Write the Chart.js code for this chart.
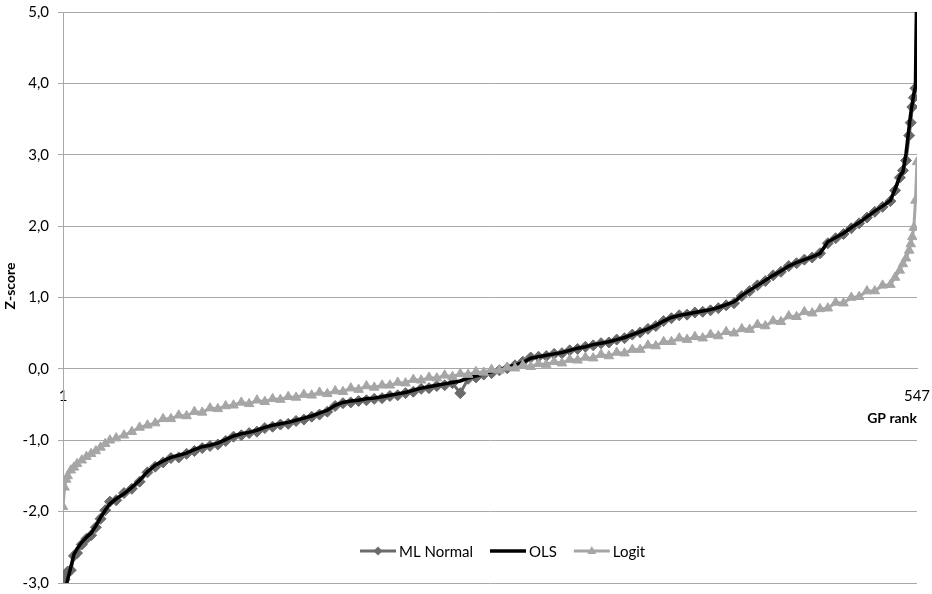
<!DOCTYPE html>
<html><head><meta charset="utf-8">
<script src="https://cdn.jsdelivr.net/npm/chart.js@4/dist/chart.umd.min.js"></script>
<style>html,body{margin:0;padding:0;background:#fff;}#wrap{width:932px;height:594px;}</style>
</head><body><div id="wrap"><canvas id="c" width="932" height="594"></canvas></div>
<script>
// GP rank positions of the sampled points
const ranks = [1,2,3,4,6,8,10,13,16,19,22,25,28,31,35,40,45,50,55,
60,65,70,75,80,85,90,95,100,105,
110,115,120,125,130,135,140,145,150,155,
160,165,170,175,180,185,190,195,200,205,
210,215,220,225,230,235,240,245,250,255,
260,265,270,275,280,285,290,295,300,305,
310,315,320,325,330,335,340,345,350,355,
360,365,370,375,380,385,390,395,400,405,
410,415,420,425,430,435,440,445,450,455,
460,465,470,475,480,485,490,495,500,505,
510,515,520,525,530,
533,536,538,540,542,543,544,545,546,547];

const mlNormal = [-3.05,-2.95,-2.88,-2.84,-2.82,-2.62,-2.58,-2.46,-2.38,-2.33,-2.22,-2.10,-1.98,-1.86,-1.84,-1.74,-1.68,-1.58,-1.45,
-1.37,-1.31,-1.25,-1.24,-1.19,-1.15,-1.11,-1.08,-1.06,-1.01,
-0.95,-0.93,-0.90,-0.88,-0.83,-0.81,-0.78,-0.77,-0.73,-0.71,
-0.67,-0.64,-0.60,-0.52,-0.48,-0.47,-0.45,-0.44,-0.42,-0.41,
-0.38,-0.37,-0.34,-0.32,-0.28,-0.27,-0.24,-0.23,-0.20,-0.34,
-0.14,-0.12,-0.08,-0.06,-0.02,0.01,0.05,0.10,0.16,0.17,
0.18,0.21,0.22,0.26,0.28,0.31,0.33,0.36,0.37,0.41,
0.43,0.48,0.51,0.56,0.60,0.67,0.71,0.75,0.76,0.79,
0.80,0.82,0.85,0.89,0.92,1.02,1.09,1.17,1.23,1.31,
1.36,1.44,1.48,1.53,1.56,1.62,1.76,1.83,1.89,1.97,
2.04,2.12,2.20,2.27,2.35,
2.50,2.68,2.78,2.92,3.27,3.45,3.67,3.80,3.93,5.40];

const ols = [-3.20,-3.12,-3.05,-2.95,-2.78,-2.60,-2.52,-2.43,-2.36,-2.30,-2.20,-2.08,-1.98,-1.89,-1.82,-1.75,-1.66,-1.56,-1.44,
-1.35,-1.29,-1.24,-1.21,-1.18,-1.13,-1.09,-1.07,-1.04,-0.99,
-0.94,-0.91,-0.89,-0.86,-0.82,-0.79,-0.77,-0.75,-0.72,-0.69,
-0.66,-0.62,-0.58,-0.51,-0.47,-0.45,-0.44,-0.42,-0.41,-0.39,
-0.37,-0.35,-0.33,-0.30,-0.27,-0.25,-0.23,-0.21,-0.19,-0.17,
-0.13,-0.10,-0.07,-0.04,-0.01,0.02,0.05,0.09,0.15,0.17,
0.19,0.21,0.23,0.26,0.29,0.31,0.34,0.36,0.38,0.41,
0.44,0.48,0.52,0.56,0.61,0.67,0.72,0.75,0.77,0.79,
0.81,0.83,0.86,0.90,0.94,1.03,1.10,1.17,1.24,1.31,
1.37,1.44,1.49,1.53,1.57,1.62,1.78,1.84,1.90,1.98,
2.05,2.13,2.21,2.28,2.36,
2.52,2.70,2.76,3.02,3.40,3.58,3.72,3.86,3.95,5.60];

const logit = [-1.93,-1.66,-1.55,-1.50,-1.42,-1.38,-1.33,-1.28,-1.23,-1.19,-1.15,-1.10,-1.05,-1.00,-0.97,-0.93,-0.88,-0.82,-0.79,
-0.76,-0.70,-0.70,-0.65,-0.66,-0.60,-0.61,-0.55,-0.56,-0.52,
-0.51,-0.47,-0.49,-0.44,-0.46,-0.42,-0.43,-0.39,-0.40,-0.36,
-0.37,-0.33,-0.35,-0.31,-0.32,-0.27,-0.29,-0.24,-0.26,-0.23,
-0.23,-0.19,-0.20,-0.15,-0.16,-0.12,-0.13,-0.09,-0.11,-0.07,
-0.08,-0.04,-0.05,-0.01,-0.02,0.02,0.01,0.05,0.03,0.07,
0.06,0.10,0.08,0.13,0.12,0.16,0.15,0.20,0.18,0.23,
0.22,0.27,0.27,0.33,0.32,0.38,0.38,0.43,0.41,0.45,
0.43,0.48,0.46,0.52,0.50,0.56,0.55,0.62,0.60,0.67,
0.66,0.74,0.73,0.80,0.78,0.84,0.85,0.93,0.92,1.00,
1.01,1.09,1.09,1.17,1.18,
1.28,1.38,1.47,1.55,1.66,1.75,1.85,1.98,2.36,2.90];

const seriesNames = ['ML Normal', 'OLS', 'Logit'];
const xTickValues = [1, 547];
const yMin = -3, yMax = 5, yStep = 1;
const xTitle = 'GP rank';
const yTitle = 'Z-score';

const FONT = 'Lato';
const toPts = arr => arr.map((v, i) => ({x: ranks[i], y: v}));

const legendPlugin = {
  id: 'insideLegend',
  afterDraw(chart) {
    const ctx = chart.ctx;
    const y = 551;
    let x = 360;
    ctx.save();
    ctx.font = '15px ' + FONT;
    ctx.textBaseline = 'middle';
    ctx.textAlign = 'left';
    chart.data.datasets.forEach(ds => {
      ctx.strokeStyle = ds.borderColor;
      ctx.lineWidth = ds.borderWidth;
      ctx.beginPath(); ctx.moveTo(x, y); ctx.lineTo(x + 36, y); ctx.stroke();
      const cx = x + 18;
      ctx.fillStyle = ds.pointBackgroundColor;
      if (ds.pointStyle === 'rectRot' && ds.pointRadius > 0) {
        ctx.beginPath(); ctx.moveTo(cx, y - 4.5); ctx.lineTo(cx + 4.5, y); ctx.lineTo(cx, y + 4.5); ctx.lineTo(cx - 4.5, y); ctx.closePath(); ctx.fill();
      } else if (ds.pointStyle === 'triangle' && ds.pointRadius > 0) {
        ctx.beginPath(); ctx.moveTo(cx, y - 5); ctx.lineTo(cx + 4.5, y + 3); ctx.lineTo(cx - 4.5, y + 3); ctx.closePath(); ctx.fill();
      }
      ctx.fillStyle = '#000';
      ctx.fillText(ds.label, x + 39, y + 1);
      x += 39 + ctx.measureText(ds.label).width + 17;
    });
    // y axis title, rotated
    ctx.translate(10, 286);
    ctx.rotate(-Math.PI / 2);
    ctx.font = 'bold 14px ' + FONT;
    ctx.textAlign = 'center';
    ctx.fillText(yTitle, 0, 0);
    ctx.restore();
  }
};

new Chart(document.getElementById('c'), {
  type: 'line',
  data: {
    datasets: [
      { label: seriesNames[0], data: toPts(mlNormal), borderColor: '#6B6B6B', backgroundColor: '#6B6B6B',
        pointBackgroundColor: '#6B6B6B', pointBorderColor: '#6B6B6B', borderWidth: 3, pointStyle: 'rectRot',
        pointRadius: 5.5, pointBorderWidth: 1, tension: 0, order: 3 },
      { label: seriesNames[1], data: toPts(ols), borderColor: '#000000', backgroundColor: '#000000',
        pointBackgroundColor: '#000000', borderWidth: 3.5, pointRadius: 0, tension: 0, order: 2 },
      { label: seriesNames[2], data: toPts(logit), borderColor: '#A6A6A6', backgroundColor: '#A6A6A6',
        pointBackgroundColor: '#A6A6A6', pointBorderColor: '#A6A6A6', borderWidth: 3, pointStyle: 'triangle',
        pointRadius: 5.5, pointBorderWidth: 1, tension: 0, order: 1 }
    ]
  },
  options: {
    responsive: false,
    animation: false,
    devicePixelRatio: 1,
    layout: { padding: { left: 3, right: 15, top: 12, bottom: 11 } },
    plugins: { legend: { display: false }, tooltip: { enabled: false } },
    scales: {
      x: {
        type: 'linear', min: 1, max: 547, position: { y: 0 },
        afterBuildTicks: s => { s.ticks = xTickValues.map(v => ({ value: v })); },
        afterFit: s => { s.paddingLeft = 0; s.paddingRight = 0; },
        ticks: { autoSkip: false, maxRotation: 0, color: '#000', padding: 18,
          font: { family: FONT, size: 15 }, callback: v => String(v) },
        grid: { display: false, drawTicks: false },
        border: { display: true, color: '#A8A8A8', width: 1 },
        title: { display: true, text: xTitle, align: 'end', color: '#000',
          font: { family: FONT, size: 14, weight: 'bold' }, padding: { top: -13, bottom: 6 } }
      },
      y: {
        min: yMin, max: yMax,
        afterBuildTicks: s => { const t = []; for (let v = yMin; v <= yMax; v += yStep) t.push({ value: v }); s.ticks = t; },
        ticks: { color: '#000', padding: 9, font: { family: FONT, size: 15 },
          callback: v => v.toFixed(1).replace('.', ',') },
        grid: { color: '#A8A8A8', lineWidth: 1, tickLength: 5 },
        border: { display: true, color: '#A8A8A8', width: 1 },
        title: { display: false },
        afterFit: s => { s.width = 60; s.paddingTop = 0; s.paddingBottom = 0; }
      }
    }
  },
  plugins: [legendPlugin]
});
</script></body></html>
